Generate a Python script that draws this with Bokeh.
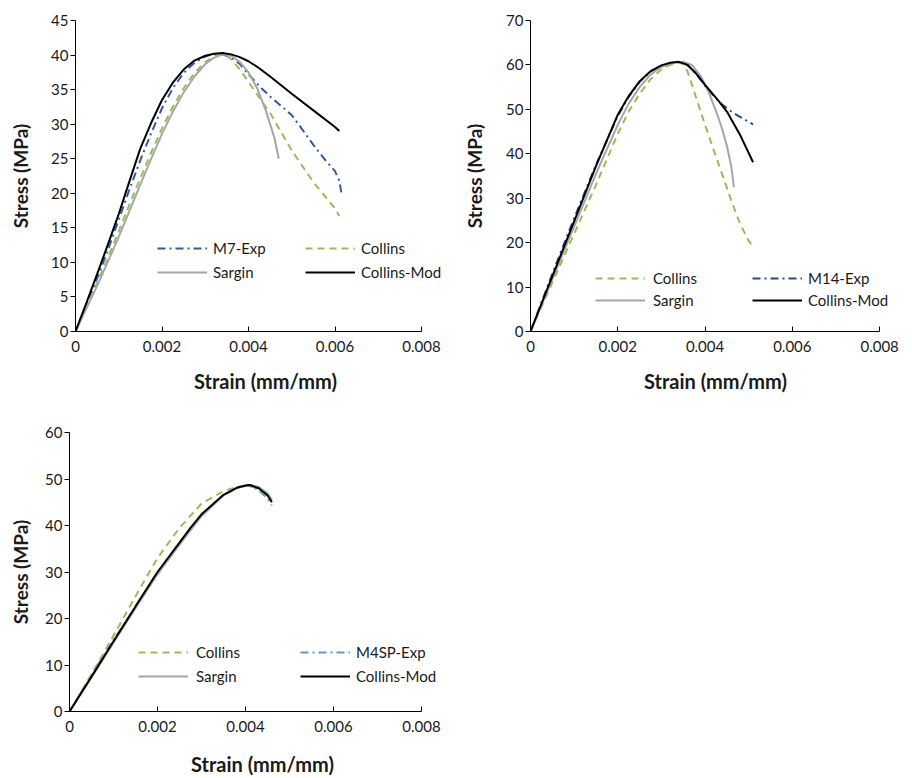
from bokeh.plotting import figure
from bokeh.models import Range1d, FixedTicker, Legend, LegendItem, LinearAxis
from bokeh.layouts import column, row
from bokeh.embed import file_html
from bokeh.resources import INLINE

# ---------------- data ----------------
x_ticks = [0, 0.002, 0.004, 0.006, 0.008]
x_tick_labels = ["0", "0.002", "0.004", "0.006", "0.008"]
x_title = "Strain (mm/mm)"
y_title = "Stress (MPa)"
x_axis_max = 0.008

# Panel 1 : M7
m7_y_ticks = [0, 5, 10, 15, 20, 25, 30, 35, 40, 45]
m7_exp_x = [0, 0.00025, 0.0005, 0.00075, 0.001, 0.00125, 0.0015, 0.00175, 0.002, 0.00225, 0.0025, 0.00275, 0.003,
            0.0031, 0.0033, 0.0034, 0.0036, 0.0038, 0.004, 0.0043, 0.0045, 0.0048, 0.005, 0.0052, 0.0055, 0.0058,
            0.006, 0.0061, 0.00615]
m7_exp_y = [0, 3.8, 7.7, 11.8, 16.2, 20.6, 24.8, 28.7, 32.3, 35.2, 37.4, 38.9, 39.8,
            40.0, 40.1, 40.1, 39.6, 38.7, 37.2, 35.2, 34.0, 32.4, 31.3, 29.6, 27.0, 24.6,
            23.2, 21.8, 20.0]
m7_collins_x = [0, 0.00025, 0.0005, 0.00075, 0.001, 0.00125, 0.0015, 0.00175, 0.002, 0.00225, 0.0025, 0.00275,
                0.003, 0.0032, 0.0033, 0.0034, 0.0035, 0.0036, 0.0038, 0.004, 0.0045, 0.005, 0.0055, 0.006, 0.0061]
m7_collins_y = [0, 3.5, 7.0, 10.7, 14.5, 18.4, 22.2, 25.9, 29.4, 32.5, 35.2, 37.4,
                39.0, 39.8, 40.0, 40.1, 39.9, 39.4, 37.9, 36.1, 31.6, 26.2, 21.6, 17.8, 16.7]
m7_sargin_x = [0, 0.00025, 0.0005, 0.00075, 0.001, 0.00125, 0.0015, 0.00175, 0.002, 0.00225, 0.0025, 0.00275,
               0.003, 0.0032, 0.0034, 0.0036, 0.0038, 0.004, 0.0042, 0.0044, 0.0046, 0.0047]
m7_sargin_y = [0, 3.3, 6.6, 10.1, 13.7, 17.5, 21.3, 25.0, 28.6, 31.8, 34.6, 36.9,
               38.7, 39.6, 40.1, 39.9, 39.0, 37.5, 35.2, 32.0, 28.0, 25.0]
m7_mod_x = [0, 0.00025, 0.0005, 0.00075, 0.001, 0.00125, 0.0015, 0.00175, 0.002, 0.00225, 0.0025, 0.00275, 0.003,
            0.0032, 0.0034, 0.0036, 0.0038, 0.004, 0.0042, 0.0045, 0.005, 0.0055, 0.006, 0.0061]
m7_mod_y = [0, 4.1, 8.3, 12.6, 17.0, 21.8, 26.5, 30.2, 33.5, 36.0, 37.9, 39.2, 39.9,
            40.2, 40.3, 40.1, 39.7, 39.1, 38.3, 36.9, 34.4, 32.0, 29.6, 29.0]

# Panel 2 : M14
m14_y_ticks = [0, 10, 20, 30, 40, 50, 60, 70]
m14_collins_x = [0, 0.0005, 0.001, 0.0015, 0.002, 0.00225, 0.0025, 0.00275, 0.003, 0.0032, 0.0034, 0.0035, 0.0036,
                 0.0038, 0.004, 0.0042, 0.0044, 0.0046, 0.0048, 0.005, 0.0051]
m14_collins_y = [0, 11.0, 22.0, 33.0, 44.5, 49.5, 53.5, 56.8, 59.0, 60.0, 60.5, 60.2, 58.5,
                 52.5, 46.5, 40.8, 35.2, 29.5, 24.3, 20.4, 19.1]
m14_exp_x = [0, 0.0005, 0.001, 0.0015, 0.002, 0.00225, 0.0025, 0.00275, 0.003, 0.0032, 0.0034, 0.0036, 0.0038,
             0.004, 0.0042, 0.0044, 0.0046, 0.0048, 0.005, 0.0051]
m14_exp_y = [0, 13.0, 25.5, 37.5, 48.5, 52.8, 56.2, 58.5, 59.8, 60.4, 60.6, 60.0, 58.0,
             55.3, 53.0, 51.0, 49.5, 48.3, 47.2, 46.6]
m14_sargin_x = [0, 0.0005, 0.001, 0.0015, 0.002, 0.00225, 0.0025, 0.00275, 0.003, 0.0033, 0.0035, 0.0037, 0.0039,
                0.0041, 0.0043, 0.0044, 0.0045, 0.0046, 0.00466]
m14_sargin_y = [0, 11.8, 23.6, 35.5, 46.5, 51.3, 55.0, 57.8, 59.6, 60.5, 60.7, 60.0, 57.5,
                53.5, 48.3, 45.3, 41.8, 37.2, 32.5]
m14_mod_x = [0, 0.0005, 0.001, 0.0015, 0.002, 0.00225, 0.0025, 0.00275, 0.003, 0.0032, 0.0034, 0.0036, 0.0038,
             0.004, 0.0043, 0.0045, 0.0048, 0.0051]
m14_mod_y = [0, 12.4, 24.8, 37.2, 48.8, 53.0, 56.3, 58.6, 59.9, 60.5, 60.7, 60.0, 58.0,
             55.5, 52.0, 49.5, 44.3, 38.1]

# Panel 3 : M4SP
m4_y_ticks = [0, 10, 20, 30, 40, 50, 60]
m4_collins_x = [0, 0.0005, 0.001, 0.0015, 0.002, 0.0025, 0.003, 0.0035, 0.0038, 0.004, 0.0042, 0.0044, 0.0046]
m4_collins_y = [0, 8.0, 16.3, 24.8, 33.0, 39.5, 44.7, 47.4, 48.3, 48.5, 48.2, 47.2, 45.5]
m4_exp_x = [0, 0.0005, 0.001, 0.0015, 0.002, 0.0025, 0.003, 0.0035, 0.0038, 0.004, 0.0041, 0.0043, 0.0045, 0.0046]
m4_exp_y = [0, 7.8, 15.4, 22.5, 29.5, 36.0, 42.2, 46.5, 48.0, 48.5, 48.6, 47.6, 45.8, 44.3]
m4_sargin_x = [0, 0.0005, 0.001, 0.0015, 0.002, 0.0025, 0.003, 0.0035, 0.0038, 0.004, 0.0041, 0.0043, 0.0045,
               0.0046]
m4_sargin_y = [0, 7.3, 14.8, 22.2, 29.6, 35.9, 42.0, 46.5, 48.1, 48.6, 48.7, 48.3, 46.9, 45.5]
m4_mod_x = [0, 0.0005, 0.001, 0.0015, 0.002, 0.0025, 0.00275, 0.003, 0.0035, 0.0038, 0.004, 0.0041, 0.0043,
            0.0045, 0.0046]
m4_mod_y = [0, 7.5, 15.1, 22.6, 30.0, 36.3, 39.5, 42.4, 46.6, 48.1, 48.6, 48.7, 48.0, 46.5, 45.0]

# ---------------- styling ----------------
FONT = "Lato"
TXT = "#1a1a1a"
GREEN = "#9BBB59"
GRAY = "#A6A6A6"
BLACK = "#000000"
DASH = "7 5"
DASHDOT = "8 4 2 4"


def make_panel(width, height, bl, br, bt, bb, axis_px, y_max, y_ticks, series, legend_cols,
               y_label_standoff, x_title_center_px, x_title_standoff):
    frame_w = width - bl - br
    x_end = x_axis_max * frame_w / axis_px   # frame extends past the axis so the legend is not clipped
    p = figure(width=width, height=height, output_backend="svg", toolbar_location=None,
               x_range=Range1d(0, x_end), y_range=Range1d(0, y_max),
               min_border_left=bl, min_border_right=br, min_border_top=bt, min_border_bottom=bb)
    p.outline_line_color = None
    p.grid.visible = False
    p.background_fill_color = "white"
    p.border_fill_color = "white"

    p.xaxis.ticker = FixedTicker(ticks=x_ticks)
    p.xaxis.major_label_overrides = dict(zip(x_ticks, x_tick_labels))
    p.xaxis.bounds = (0, x_axis_max)
    p.yaxis.ticker = FixedTicker(ticks=y_ticks)
    for ax in (p.xaxis, p.yaxis):
        ax.axis_line_color = BLACK
        ax.axis_line_width = 1
        ax.major_tick_line_color = BLACK
        ax.minor_tick_line_color = None
        ax.major_label_text_font = FONT
        ax.major_label_text_font_size = "15px"
        ax.major_label_text_color = TXT
    p.xaxis.major_tick_in = 5
    p.xaxis.major_tick_out = 0
    p.xaxis.major_label_standoff = 9
    p.yaxis.major_tick_in = 0
    p.yaxis.major_tick_out = 5
    p.yaxis.major_label_standoff = 2
    p.yaxis.axis_label = y_title
    p.yaxis.axis_label_text_font = FONT
    p.yaxis.axis_label_text_font_style = "bold"
    p.yaxis.axis_label_text_font_size = "19px"
    p.yaxis.axis_label_text_color = TXT
    p.yaxis.axis_label_standoff = y_label_standoff

    # x title: a label-only axis whose bounds centre it where the reference puts it
    centre = x_axis_max * x_title_center_px / axis_px
    title_axis = LinearAxis(ticker=FixedTicker(ticks=[]), bounds=(2 * centre - x_axis_max, x_axis_max),
                            axis_line_color=None, major_tick_line_color=None, minor_tick_line_color=None,
                            major_tick_in=0, major_tick_out=0, major_label_standoff=0,
                            major_label_text_font_size="1px",
                            axis_label=x_title, axis_label_standoff=x_title_standoff,
                            axis_label_text_font=FONT, axis_label_text_font_style="bold",
                            axis_label_text_font_size="20px", axis_label_text_color=TXT)
    p.add_layout(title_axis, "below")

    renderers = {}
    for name, xs, ys, color, dash in series:
        r = p.line(xs, ys, line_color=color, line_width=2, line_dash=dash)
        renderers[name] = r

    for (vx, vy, names, standoff, spacing) in legend_cols:
        items = [LegendItem(label=n, renderers=[renderers[n]]) for n in names]
        lg = Legend(items=items, location=(vx, vy), orientation="vertical",
                    padding=0, margin=0, spacing=spacing, glyph_width=50, glyph_height=20,
                    label_height=20, label_standoff=standoff,
                    border_line_alpha=0, background_fill_alpha=0,
                    label_text_font=FONT, label_text_font_size="15px", label_text_color=TXT)
        p.add_layout(lg)
    return p


p1 = make_panel(460, 395, 75, 5, 20, 64, 346, 45, m7_y_ticks,
                [("M7-Exp", m7_exp_x, m7_exp_y, "#2E5C9E", DASHDOT),
                 ("Collins", m7_collins_x, m7_collins_y, GREEN, DASH),
                 ("Sargin", m7_sargin_x, m7_sargin_y, GRAY, "solid"),
                 ("Collins-Mod", m7_mod_x, m7_mod_y, BLACK, "solid")],
                [(82, 49, ["M7-Exp", "Sargin"], 6, 4), (230, 49, ["Collins", "Collins-Mod"], 6, 4)],
                16, 192, 14)

p2 = make_panel(452, 395, 68, 12, 20, 64, 351, 70, m14_y_ticks,
                [("M14-Exp", m14_exp_x, m14_exp_y, "#1F4E8C", DASHDOT),
                 ("Collins", m14_collins_x, m14_collins_y, GREEN, DASH),
                 ("Sargin", m14_sargin_x, m14_sargin_y, GRAY, "solid"),
                 ("Collins-Mod", m14_mod_x, m14_mod_y, BLACK, "solid")],
                [(65, 21, ["Collins", "Sargin"], 8, 2), (222, 21, ["M14-Exp", "Collins-Mod"], 6, 2)],
                17, 194, 14)

p3 = make_panel(460, 383, 69, 5, 37, 65, 352, 60, m4_y_ticks,
                [("M4SP-Exp", m4_exp_x, m4_exp_y, "#5B9BD5", DASHDOT),
                 ("Collins", m4_collins_x, m4_collins_y, GREEN, DASH),
                 ("Sargin", m4_sargin_x, m4_sargin_y, GRAY, "solid"),
                 ("Collins-Mod", m4_mod_x, m4_mod_y, BLACK, "solid")],
                [(69, 25, ["Collins", "Sargin"], 8, 4), (231, 25, ["M4SP-Exp", "Collins-Mod"], 6, 4)],
                10, 193, 17)

layout = column(row(p1, p2), p3)
open("out.html", "w").write(file_html(layout, INLINE))
